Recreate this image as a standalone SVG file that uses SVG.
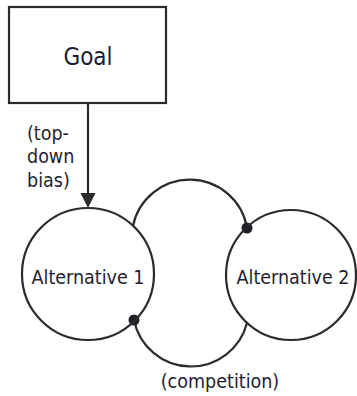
<svg xmlns="http://www.w3.org/2000/svg" width="357" height="396" viewBox="0 0 357 396">
<style>
.s{fill:none;stroke:#2b2b2f;stroke-width:2.2}
.t{font-family:"DejaVu Sans Condensed","DejaVu Sans",sans-serif;fill:#1e1e30}
.dot{fill:#1e1e24}
</style>
<rect width="357" height="396" fill="#fff"/>
<g id="goal">
<rect class="s" x="9" y="7" width="157" height="96" fill="#fff"/>
<text class="t" x="88" y="65" font-size="24" text-anchor="middle">Goal</text>
</g>
<g id="connectors">
<line class="s" x1="88" y1="103" x2="88" y2="195"/>
<polygon points="80.5,193 95.5,193 88,208" fill="#2b2b2f"/>
<text class="t" font-size="19.5"><tspan x="27" y="140">(top-</tspan><tspan x="27" y="163">down</tspan><tspan x="27" y="187">bias)</tspan></text>
<path class="s" d="M133,226 A58,58 0 0 1 247,228"/>
<path class="s" d="M134,320 A58,58 0 0 0 247,323"/>
<circle class="dot" cx="247" cy="228" r="5.5"/>
<circle class="dot" cx="134" cy="320" r="5.5"/>
<text class="t" x="220" y="388" font-size="19.5" text-anchor="middle">(competition)</text>
</g>
<g id="alt1">
<circle class="s" cx="88" cy="274" r="66"/>
<text class="t" x="88" y="284" font-size="19.5" text-anchor="middle">Alternative 1</text>
</g>
<g id="alt2">
<circle class="s" cx="291" cy="275" r="65"/>
<text class="t" x="293" y="284" font-size="19.5" text-anchor="middle">Alternative 2</text>
</g>
</svg>
